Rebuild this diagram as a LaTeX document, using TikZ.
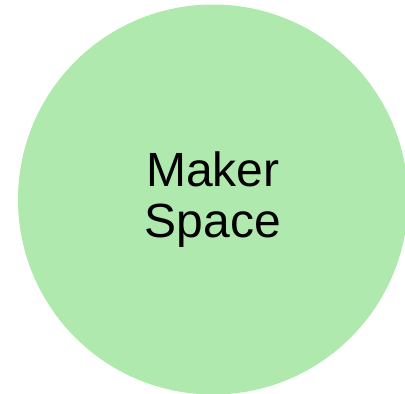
\documentclass[tikz,border=0pt]{standalone}
\usepackage{fontspec}
\setmainfont{Liberation Sans}
\definecolor{makergreen}{RGB}{175,233,174}

\begin{document}
\begin{tikzpicture}[
		x=1pt, y=-1pt,
		space/.style={circle, fill=makergreen, draw=none, minimum size=390pt, inner sep=0pt,
			align=center, font=\fontsize{48}{51}\selectfont}
		]
		\useasboundingbox (0,0) rectangle (405,394);
		
		% --- Central area ---
		\node[space] (maker) at (213,199.5) {Maker\\Space};
		
	\end{tikzpicture}
\end{document}
